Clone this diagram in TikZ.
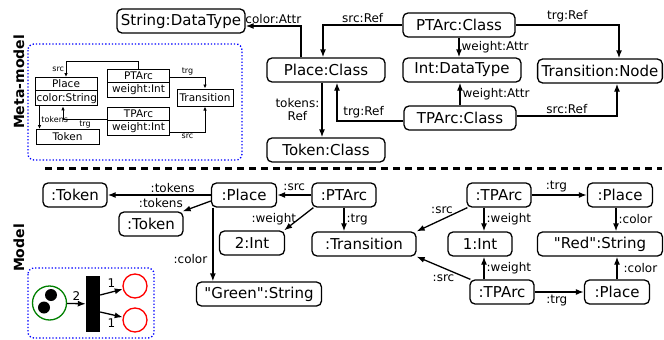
\documentclass[tikz,border=0pt]{standalone}
\usepackage{fontspec}
\setmainfont{DejaVu Sans}
\usetikzlibrary{arrows.meta,shapes.multipart}

\begin{document}
\begin{tikzpicture}[x=1pt,y=-1pt,
  >={Latex[length=8pt,width=6pt]},
  obj/.style={draw,rounded corners=5pt,line width=1.3pt,minimum height=24pt,inner xsep=4pt,inner ysep=2pt,font=\fontsize{15}{17}\selectfont},
  lbl/.style={font=\fontsize{12}{13}\selectfont,inner sep=2pt},
  conn/.style={->,line width=1.3pt},
  cls/.style={draw,line width=1pt,rectangle split,rectangle split parts=2,text width=59pt,align=center,inner xsep=1.5pt,inner ysep=2pt,font=\fontsize{10.5}{12}\selectfont},
  cbox/.style={draw,line width=1pt,inner sep=1pt,font=\fontsize{10.5}{12}\selectfont},
  mconn/.style={->,line width=0.9pt,>={Latex[length=4pt,width=3.5pt]}},
  mlbl/.style={font=\fontsize{8}{9}\selectfont,inner sep=1.5pt},
  side/.style={rotate=90,font=\fontsize{14}{16}\selectfont\bfseries},
  inset/.style={draw=blue,dotted,line width=1.3pt,rounded corners=6pt}]
  \useasboundingbox (0,0) rectangle (664,340);

  % meta-model
  \node[obj,minimum width=126pt] (str) at (181,21) {String:DataType};
  \node[obj,minimum width=112pt] (ptc) at (459,25) {PTArc:Class};
  \node[obj,minimum width=118pt] (plc) at (326,70) {Place:Class};
  \node[obj,minimum width=118pt] (intc) at (462,70) {Int:DataType};
  \node[obj,minimum width=120pt] (trc) at (600,71) {Transition:Node};
  \node[obj,minimum width=112pt] (tpc) at (460,118) {TPArc:Class};
  \node[obj,minimum width=118pt] (tokc) at (326,150) {Token:Class};

  \draw[conn] ([xshift=-25pt]plc.north) |- node[pos=0.75,above,lbl]{color:Attr} ([yshift=-5pt]str.east);
  \draw[conn] (ptc.west) -| node[pos=0.25,above,lbl]{src:Ref} ([xshift=-3pt]plc.north);
  \draw[conn] (ptc.south) -- node[right,lbl]{weight:Attr} (ptc.south |- intc.north);
  \draw[conn] (ptc.east) -| node[pos=0.25,above,lbl]{trg:Ref} ([xshift=19pt]trc.north);
  \draw[conn] (tpc.north) -- node[right,lbl]{weight:Attr} (tpc.north |- intc.south);
  \draw[conn] ([yshift=-3pt]tpc.west) -| node[pos=0.3,above,lbl]{trg:Ref} ([xshift=11pt]plc.south);
  \draw[conn] ([yshift=2pt]tpc.east) -| node[pos=0.25,above,lbl]{src:Ref} ([xshift=17pt]trc.south);
  \draw[conn] ([xshift=-4pt]plc.south) -- node[left,lbl,align=center]{tokens:\\Ref} ([xshift=-4pt]tokc.north);

  % small class diagram
  \draw[inset] (28,44) rectangle (242,160);
  \node[cls,anchor=north] (mPlace) at (66,77) {Place\nodepart{two}color:String};
  \node[cls,anchor=north] (mPTArc) at (138.5,69) {PTArc\nodepart{two}weight:Int};
  \node[cls,anchor=north] (mTPArc) at (138.5,107) {TPArc\nodepart{two}weight:Int};
  \node[cbox,minimum width=56pt,minimum height=17pt] (mTrans) at (205,97.5) {Transition};
  \node[cbox,minimum width=63pt,minimum height=15pt] (mToken) at (67.5,137) {Token};

  \draw[mconn] (mPTArc.north) -- ++(0,-8) -| node[pos=0.75,left,mlbl]{src} (mPlace.north);
  \draw[mconn] ([yshift=-8pt]mPTArc.north east) -| node[pos=0.25,above,mlbl]{trg} (mTrans.north);
  \draw[mconn] ([yshift=-12pt]mTPArc.north west) -| node[pos=0.25,below,mlbl]{trg} ([xshift=-3pt]mPlace.south);
  \draw[mconn] ([yshift=-25pt]mTPArc.north east) -| node[pos=0.25,below,mlbl]{src} (mTrans.south);
  \draw[mconn] ([xshift=5pt]mPlace.south west) -- node[pos=0.6,right,mlbl]{tokens} ([xshift=5pt]mPlace.south west |- mToken.north);

  \node[side] (mmtitle) at (19,82) {Meta-model};
  \node[side] (mtitle) at (19,248) {Model};

  \draw[line width=3pt,dash pattern=on 7pt off 5pt] (45,168) -- (662,168);

  % model
  \node[obj,minimum width=64pt] (tok1) at (75,195) {:Token};
  \node[obj,minimum width=64pt] (tok2) at (151,224) {:Token};
  \node[obj,minimum width=65pt] (pl0) at (244,195) {:Place};
  \node[obj,minimum width=64pt] (pta) at (344,195) {:PTArc};
  \node[obj,minimum width=65pt] (int2) at (252,243) {2:Int};
  \node[obj,minimum width=104pt] (trans) at (364,244) {:Transition};
  \node[obj,minimum width=125pt] (green) at (259,294) {\textquotedbl Green\textquotedbl:String};
  \node[obj,minimum width=64pt] (tpa1) at (499,195) {:TPArc};
  \node[obj,minimum width=65pt] (pl1) at (620,195) {:Place};
  \node[obj,minimum width=64pt] (int1) at (480,244) {1:Int};
  \node[obj,minimum width=125pt] (red) at (600,244) {\textquotedbl Red\textquotedbl:String};
  \node[obj,minimum width=64pt] (tpa2) at (502,292) {:TPArc};
  \node[obj,minimum width=65pt] (pl2) at (617,292) {:Place};

  \draw[conn] (pl0.west) -- node[pos=0.37,above,lbl]{:tokens} (tok1.east);
  \draw[conn] ([yshift=-6pt]pl0.west) -- node[pos=0.9,anchor=south east,lbl]{:tokens} ([xshift=-1pt]tok2.north east);
  \draw[conn] (pta.west) -- node[above=2pt,lbl]{:src} (pl0.east);
  \draw[conn] ([xshift=2pt]pta.south west) -- node[left,lbl]{:weight} ([xshift=-1pt]int2.north east);
  \draw[conn] (pta.south) -- node[right,lbl]{:trg} (pta.south |- trans.north);
  \draw[conn] ([xshift=2pt]pl0.south west) -- node[pos=0.7,left=3pt,lbl]{:color} ([xshift=2pt]pl0.south west |- green.north);

  \draw[conn] ([xshift=1pt]tpa1.south west) -- node[above=3pt,lbl]{:src} (trans.north east);
  \draw[conn] ([xshift=4pt]int1.north |- tpa1.south) -- node[right,lbl]{:weight} ([xshift=4pt]int1.north);
  \draw[conn] (tpa1.east) -- node[pos=0.45,above,lbl]{:trg} (pl1.west);
  \draw[conn] ([xshift=-4pt]pl1.south) -- node[right,lbl]{:color} ([xshift=-4pt]pl1.south |- red.north);
  \draw[conn] ([xshift=1pt]tpa2.north west) -- node[below=4pt,lbl]{:src} (trans.south east);
  \draw[conn] ([xshift=4pt]int1.south |- tpa2.north) -- node[right,lbl]{:weight} ([xshift=4pt]int1.south);
  \draw[conn] (tpa2.east) -- node[pos=0.45,below,lbl]{:trg} (pl2.west);
  \draw[conn] (pl2.north) -- node[right=4pt,lbl]{:color} (pl2.north |- red.south);

  % petri net
  \draw[inset] (28,268) rectangle (154,338);
  \node[circle,draw=green!50!black,line width=1.3pt,minimum size=34pt,inner sep=0pt] (pn) at (49.5,303) {};
  \fill (51,295) circle [radius=6];
  \fill (44,307.5) circle [radius=6];
  \node[fill=black,minimum width=14pt,minimum height=56pt,inner sep=0pt] (bar) at (93,304) {};
  \node[circle,draw=red,line width=1.3pt,minimum size=24pt,inner sep=0pt] (pr1) at (135,286) {};
  \node[circle,draw=red,line width=1.3pt,minimum size=24pt,inner sep=0pt] (pr2) at (135,320) {};
  \draw[conn] (pn) -- node[above,lbl]{2} (bar);
  \draw[conn] ([yshift=9pt]bar.east) -- node[above=2pt,lbl]{1} (pr1);
  \draw[conn] ([yshift=-8pt]bar.east) -- node[below=2pt,lbl]{1} (pr2);
\end{tikzpicture}
\end{document}
